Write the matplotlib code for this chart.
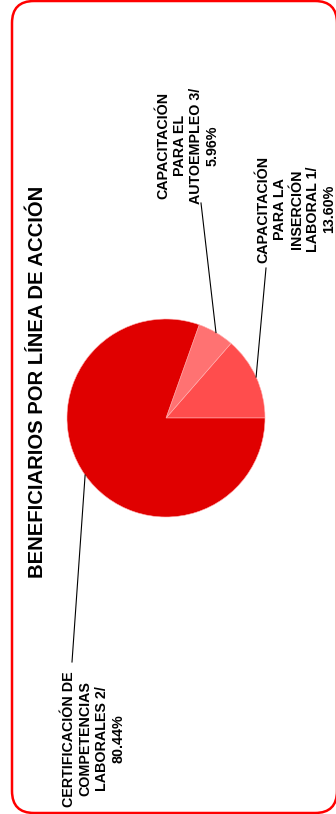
import numpy as np
import matplotlib.pyplot as plt
from matplotlib.patches import FancyBboxPatch

plt.rcParams["font.family"] = ["Liberation Sans", "DejaVu Sans"]

TITLE = "BENEFICIARIOS POR LÍNEA DE ACCIÓN"
LABELS = [
    "CAPACITACIÓN\nPARA LA\nINSERCIÓN\nLABORAL 1/",
    "CAPACITACIÓN\nPARA EL\nAUTOEMPLEO 3/",
    "CERTIFICACIÓN DE\nCOMPETENCIAS\nLABORALES 2/",
]
SHARES = [13.60, 5.96, 80.44]
COLORS = ["#ff4d4d", "#ff7272", "#e00000"]

# layout in pixel coords (y up), chart drawn rotated 90 degrees
CENTER = (166, 396)
RADIUS = 99
LABEL_POS = [(296.5, 605), (188, 668.5), (94, 75)]
LINE_END = [(266, 546), (201, 611), (72, 152)]

fig = plt.figure(figsize=(3.36, 8.14), dpi=100)
ax = fig.add_axes([0, 0, 1, 1])

border = FancyBboxPatch((12, 1), 325, 812, boxstyle="round,pad=0,rounding_size=22",
                        facecolor="none", edgecolor="#ff0000", linewidth=1.8, clip_on=False)
ax.add_patch(border)

wedges, _ = ax.pie(SHARES, colors=COLORS, startangle=0, counterclock=True,
                   center=CENTER, radius=RADIUS, frame=True,
                   wedgeprops={"linewidth": 0.4, "edgecolor": "#ffb0b0"})
ax.set_xlim(0, 336)
ax.set_ylim(0, 814)
ax.axis("off")

for w, label, share, pos, end in zip(wedges, LABELS, SHARES, LABEL_POS, LINE_END):
    mid = np.deg2rad((w.theta1 + w.theta2) / 2)
    edge = (CENTER[0] + RADIUS * np.cos(mid), CENTER[1] + RADIUS * np.sin(mid))
    ax.plot([edge[0], end[0]], [edge[1], end[1]], color="black", linewidth=0.8)
    ax.text(pos[0], pos[1], f"{label}\n{share:.2f}%", rotation=90, ha="center", va="center",
            multialignment="center", fontsize=10.3, fontweight="bold", linespacing=1.22)

ax.text(38, 432, TITLE, rotation=90, ha="center", va="center",
        fontsize=14.6, fontweight="bold")

fig.savefig("out.png", dpi=100)
